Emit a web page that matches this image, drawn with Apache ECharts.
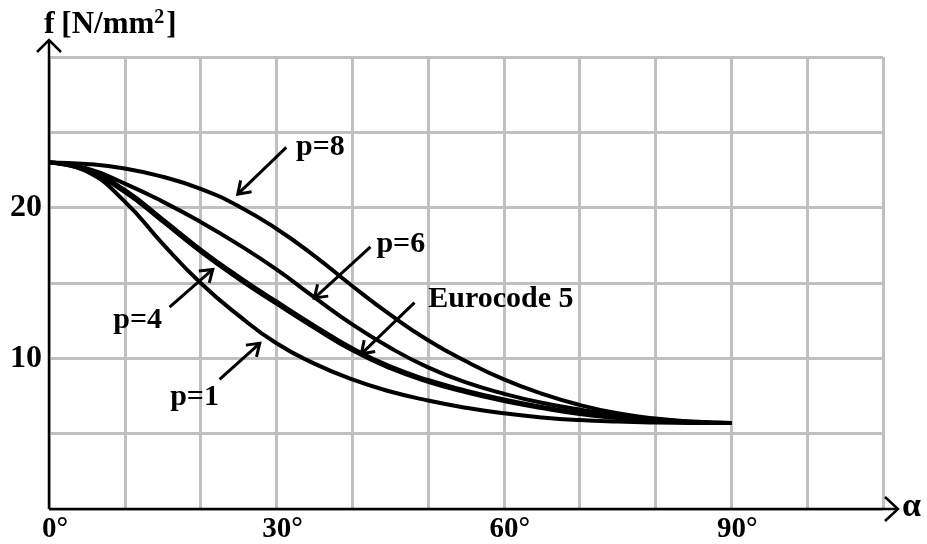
<!DOCTYPE html>
<html>
<head>
<meta charset="utf-8">
<script src="https://cdn.jsdelivr.net/npm/echarts@6/dist/echarts.min.js"></script>
<style>
html,body{margin:0;padding:0;background:#fff;}
#c{width:927px;height:544px;}
</style>
</head>
<body>
<div id="c"></div>
<script>
// angles (degrees)
const angles = [0,5,10,15,20,25,30,35,40,45,50,55,60,65,70,75,80,85,90];
// f [N/mm2]
const p8  = [23.0,22.9,22.6,22.05,21.25,20.1,18.6,16.8,14.8,12.9,11.2,9.8,8.6,7.65,6.9,6.35,6.0,5.8,5.7];
const p6  = [23.0,22.6,21.6,20.4,19.05,17.55,15.9,14.05,12.25,10.7,9.4,8.4,7.65,7.05,6.6,6.22,5.95,5.78,5.7];
const ec5 = [23.0,22.55,21.17,19.22,17.22,15.42,13.77,12.17,10.67,9.46,8.56,7.86,7.27,6.78,6.37,6.07,5.86,5.75,5.7];
const p4  = [23.0,22.45,21.03,19.08,17.08,15.28,13.63,12.03,10.53,9.34,8.44,7.74,7.17,6.7,6.31,6.03,5.84,5.73,5.7];
const p1  = [23.0,22.4,20.4,17.6,15.0,12.85,11.0,9.65,8.6,7.8,7.2,6.72,6.35,6.08,5.9,5.8,5.74,5.71,5.7];

// annotations: label text, label centre, arrow start, arrow tip (data coords)
const annoText   = ['p=8','p=6','Eurocode 5','p=4','p=1'];
const annoLabelX = [35.8,46.4,59.6,11.7,19.2];
const annoLabelY = [24.0,17.6,13.9,12.5,7.4];
const arrowFromX = [31.3,42.4,48.2,15.9,22.5];
const arrowFromY = [24.0,17.4,13.7,13.4,8.6];
const arrowToX   = [24.9,35.0,41.2,21.6,27.8];
const arrowToY   = [20.9,14.0,10.3,15.9,11.0];

// axis ticks
const xLabelValues = [0,30,60,90];
const yLabelValues = [10,20];

const FONT = '"Liberation Serif","Times New Roman",serif';

function pairs(ys){ return angles.map((a,i)=>[a,ys[i]]); }

const chart = echarts.init(document.getElementById('c'), null, {renderer:'canvas'});

const curveStyle = {color:'#000', width:4};
function curve(name, ys){
  return {name, type:'line', data:pairs(ys), smooth:0.5, showSymbol:false, symbol:'none',
          lineStyle:curveStyle, z:3, silent:true};
}

const annoData = annoText.map((t,i)=>[arrowFromX[i],arrowFromY[i],arrowToX[i],arrowToY[i],annoLabelX[i],annoLabelY[i]]);

const option = {
  animation:false,
  backgroundColor:'#fff',
  grid:{left:49, right:44, top:57, bottom:33},
  xAxis:{
    type:'value', min:0, max:110, interval:10,
    axisLine:{show:false}, axisTick:{show:false},
    splitLine:{show:true, lineStyle:{color:'#c0c0c0', width:3}},
    axisLabel:{
      margin:6, color:'#000', fontFamily:FONT, fontWeight:'bold', fontSize:29,
      padding:[0,0,0,12],
      formatter:v=> xLabelValues.indexOf(v)>=0 ? v+'°' : ''
    }
  },
  yAxis:{
    type:'value', min:0, max:30, interval:5,
    axisLine:{show:false}, axisTick:{show:false},
    splitLine:{show:true, lineStyle:{color:'#c0c0c0', width:3}},
    axisLabel:{
      margin:7, color:'#000', fontFamily:FONT, fontWeight:'bold', fontSize:32,
      formatter:v=> yLabelValues.indexOf(v)>=0 ? String(v) : ''
    }
  },
  series:[
    curve('p=8',p8), curve('p=6',p6), curve('Eurocode 5',ec5), curve('p=4',p4), curve('p=1',p1),
    {
      type:'custom', data:annoData, z:5, silent:true,
      renderItem:function(params, api){
        const a = api.coord([api.value(0),api.value(1)]);
        const b = api.coord([api.value(2),api.value(3)]);
        const l = api.coord([api.value(4),api.value(5)]);
        const ang = Math.atan2(a[1]-b[1], a[0]-b[0]);
        const L = 14, w = 0.6;
        const h1 = [b[0]+L*Math.cos(ang+w), b[1]+L*Math.sin(ang+w)];
        const h2 = [b[0]+L*Math.cos(ang-w), b[1]+L*Math.sin(ang-w)];
        return {type:'group', children:[
          {type:'line', shape:{x1:a[0],y1:a[1],x2:b[0],y2:b[1]}, style:{stroke:'#000', lineWidth:3}},
          {type:'polyline', shape:{points:[h1,b,h2]}, style:{stroke:'#000', lineWidth:3, fill:null, lineJoin:'miter'}},
          {type:'text', style:{text:annoText[params.dataIndex], x:l[0], y:l[1], align:'center', verticalAlign:'middle',
            font:'bold 30px '+FONT, fill:'#000'}}
        ]};
      }
    }
  ]
};
chart.setOption(option);

// axes with open arrowheads
const o  = chart.convertToPixel({gridIndex:0},[0,0]);
const xe = chart.convertToPixel({gridIndex:0},[110,0]);
const yt = chart.convertToPixel({gridIndex:0},[0,30]);
const xTip = [xe[0]+15, o[1]];
const yTip = [o[0], yt[1]-17];
chart.setOption({
  graphic:[
    {type:'line', z:10, shape:{x1:o[0],y1:o[1],x2:xTip[0],y2:xTip[1]}, style:{stroke:'#000', lineWidth:2.5}},
    {type:'polyline', z:10, shape:{points:[[xTip[0]-13,xTip[1]-12],xTip,[xTip[0]-13,xTip[1]+12]]}, style:{stroke:'#000', lineWidth:2.5, fill:null}},
    {type:'line', z:10, shape:{x1:o[0],y1:o[1],x2:yTip[0],y2:yTip[1]}, style:{stroke:'#000', lineWidth:2.5}},
    {type:'polyline', z:10, shape:{points:[[yTip[0]-12,yTip[1]+12],yTip,[yTip[0]+12,yTip[1]+12]]}, style:{stroke:'#000', lineWidth:2.5, fill:null}},
    {type:'text', z:10, x:xTip[0]+4, y:xTip[1]-2, style:{text:'α', font:'bold 34px '+FONT, fill:'#000', verticalAlign:'middle', align:'left'}},
    {type:'text', z:10, x:yTip[0]-5, y:yTip[1]+2, style:{
      text:'{f|f}  {u|[N/mm}{s|2}{u|]}', verticalAlign:'bottom', align:'left', fill:'#000',
      rich:{
        f:{font:'bold 32px '+FONT, fill:'#000'},
        u:{font:'bold 31px '+FONT, fill:'#000'},
        s:{font:'bold 20px '+FONT, fill:'#000', verticalAlign:'top', padding:[0,2,14,0]}
      }
    }}
  ]
});
</script>
</body>
</html>
